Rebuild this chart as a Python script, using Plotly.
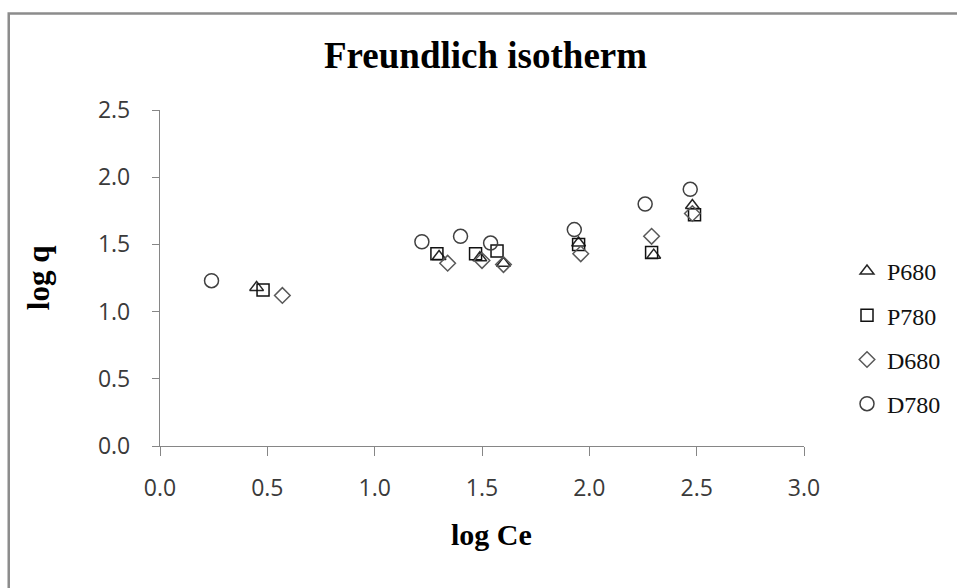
import plotly.graph_objects as go

# Freundlich isotherm data: log Ce vs log q for four adsorbents
p680_x = [0.45, 1.30, 1.49, 1.60, 1.95, 2.30, 2.48]
p680_y = [1.18, 1.41, 1.40, 1.36, 1.51, 1.42, 1.79]

p780_x = [0.48, 1.29, 1.47, 1.57, 1.95, 2.29, 2.49]
p780_y = [1.16, 1.43, 1.43, 1.45, 1.50, 1.44, 1.72]

d680_x = [0.57, 1.34, 1.50, 1.60, 1.96, 2.29, 2.48]
d680_y = [1.12, 1.36, 1.38, 1.35, 1.43, 1.56, 1.73]

d780_x = [0.24, 1.22, 1.40, 1.54, 1.93, 2.26, 2.47]
d780_y = [1.23, 1.52, 1.56, 1.51, 1.61, 1.80, 1.91]

x_ticks = [0.0, 0.5, 1.0, 1.5, 2.0, 2.5, 3.0]
y_ticks = [0.0, 0.5, 1.0, 1.5, 2.0, 2.5]

series = [
    ("P680", p680_x, p680_y, "triangle-up-open", "#262626", 12),
    ("P780", p780_x, p780_y, "square-open", "#111111", 12),
    ("D680", d680_x, d680_y, "diamond-open", "#595959", 12),
    ("D780", d780_x, d780_y, "circle-open", "#404040", 14),
]

fig = go.Figure()
for name, xs, ys, sym, col, size in series:
    fig.add_trace(go.Scatter(
        x=xs, y=ys, mode="markers", name=name, legendgroup=name,
        marker=dict(symbol=sym, size=size, color=col, line=dict(width=1.5, color=col)),
    ))

# plot area spans px 160..805 horizontally and 110..446 vertically
L, R, T, B = 160, 805, 110, 446
W, H = 957, 588
pw, ph = R - L, B - T

def px_x(p):
    return (p - L) / pw

def px_y(p):
    return (B - p) / ph

axis_font = dict(family="Open Sans, Liberation Sans, sans-serif", size=23, color="#3a3a3a")
serif_bold = "Liberation Serif, Times New Roman, serif"

fig.update_layout(
    width=W, height=H,
    margin=dict(l=L, r=W - R, t=T, b=H - B, pad=0),
    paper_bgcolor="white", plot_bgcolor="white",
    showlegend=True,
    legend=dict(
        x=px_x(847), y=px_y(249), xanchor="left", yanchor="top",
        font=dict(family="Liberation Serif, Times New Roman, serif", size=24, color="#111111"),
        tracegroupgap=10, itemwidth=30, bgcolor="rgba(0,0,0,0)",
    ),
    xaxis=dict(
        range=[0, 3], tickvals=x_ticks, ticktext=[f"{v:.1f}" for v in x_ticks],
        showgrid=False, zeroline=False, showline=True, linecolor="#868686", linewidth=1.3,
        ticks="outside", ticklen=9, tickcolor="#868686", tickwidth=1.3,
        tickfont=axis_font, ticklabelstandoff=12,
    ),
    yaxis=dict(
        range=[0, 2.5], tickvals=y_ticks, ticktext=[f"{v:.1f}" for v in y_ticks],
        showgrid=False, zeroline=False, showline=True, linecolor="#868686", linewidth=1.3,
        ticks="outside", ticklen=7, tickcolor="#868686", tickwidth=1.3,
        tickfont=axis_font, ticklabelstandoff=17,
    ),
    annotations=[
        dict(text="<b>Freundlich isotherm</b>", xref="paper", yref="paper",
             x=px_x(486), y=px_y(56), xanchor="center", yanchor="middle", showarrow=False,
             font=dict(family=serif_bold, size=37, color="black")),
        dict(text="<b>log q</b>", xref="paper", yref="paper", textangle=-90,
             x=px_x(38), y=px_y(278), xanchor="center", yanchor="middle", showarrow=False,
             font=dict(family=serif_bold, size=31, color="black")),
        dict(text="<b>log Ce</b>", xref="paper", yref="paper",
             x=px_x(492), y=px_y(534), xanchor="center", yanchor="middle", showarrow=False,
             font=dict(family=serif_bold, size=30, color="black")),
    ],
    shapes=[
        dict(type="rect", xref="paper", yref="paper",
             x0=px_x(8.5), x1=px_x(975), y0=px_y(610), y1=px_y(13.5),
             line=dict(color="#8c8c8c", width=2.5), fillcolor="rgba(0,0,0,0)", layer="below"),
    ],
)

fig.write_html("out.html")
